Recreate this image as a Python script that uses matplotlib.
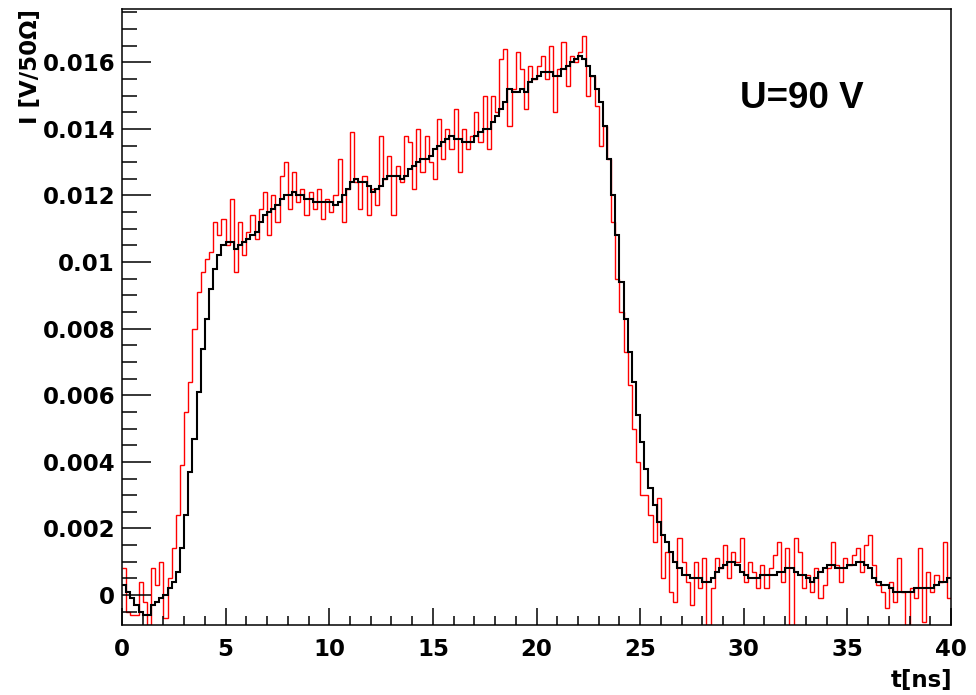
import matplotlib
matplotlib.use("Agg")
import matplotlib.pyplot as plt
from matplotlib.ticker import MultipleLocator, FuncFormatter
import numpy as np

# ── Data (signal amplitude per 0.2 ns bin, 0 … 40 ns) ───────────────────────
t_edges = np.linspace(0, 40, 201)

# black: averaged pulse
black_I = [
    0.0003, 0.0001, -0.0001, -0.0003, -0.0005, -0.0006, -0.0006, -0.0003, -0.0002, -0.0001,
    0.0000, 0.0002, 0.0004, 0.0007, 0.0014, 0.0024, 0.0037, 0.0047, 0.0061, 0.0074,
    0.0083, 0.0092, 0.0098, 0.0102, 0.0105, 0.0106, 0.0106, 0.0104, 0.0105, 0.0106,
    0.0107, 0.0108, 0.0109, 0.0112, 0.0114, 0.0115, 0.0116, 0.0117, 0.0119, 0.0120,
    0.0120, 0.0121, 0.0120, 0.0120, 0.0119, 0.0119, 0.0118, 0.0118, 0.0118, 0.0118,
    0.0118, 0.0117, 0.0118, 0.0120, 0.0122, 0.0124, 0.0125, 0.0124, 0.0124, 0.0123,
    0.0121, 0.0122, 0.0123, 0.0125, 0.0126, 0.0126, 0.0126, 0.0125, 0.0126, 0.0128,
    0.0129, 0.0130, 0.0131, 0.0131, 0.0132, 0.0134, 0.0135, 0.0136, 0.0137, 0.0138,
    0.0137, 0.0137, 0.0136, 0.0136, 0.0136, 0.0138, 0.0139, 0.0140, 0.0140, 0.0142,
    0.0144, 0.0146, 0.0148, 0.0152, 0.0151, 0.0151, 0.0152, 0.0151, 0.0154, 0.0155,
    0.0156, 0.0157, 0.0157, 0.0157, 0.0156, 0.0156, 0.0158, 0.0159, 0.0160, 0.0161,
    0.0162, 0.0161, 0.0159, 0.0156, 0.0152, 0.0148, 0.0141, 0.0131, 0.0120, 0.0108,
    0.0094, 0.0083, 0.0073, 0.0064, 0.0054, 0.0046, 0.0038, 0.0032, 0.0027, 0.0022,
    0.0018, 0.0016, 0.0013, 0.0010, 0.0008, 0.0006, 0.0006, 0.0005, 0.0005, 0.0005,
    0.0004, 0.0004, 0.0005, 0.0007, 0.0008, 0.0009, 0.0010, 0.0010, 0.0009, 0.0007,
    0.0006, 0.0005, 0.0005, 0.0005, 0.0006, 0.0006, 0.0006, 0.0006, 0.0007, 0.0007,
    0.0008, 0.0008, 0.0007, 0.0006, 0.0006, 0.0005, 0.0004, 0.0005, 0.0007, 0.0008,
    0.0009, 0.0009, 0.0008, 0.0008, 0.0008, 0.0009, 0.0009, 0.0010, 0.0010, 0.0009,
    0.0008, 0.0005, 0.0004, 0.0003, 0.0003, 0.0002, 0.0001, 0.0001, 0.0001, 0.0001,
    0.0001, 0.0002, 0.0002, 0.0002, 0.0002, 0.0002, 0.0003, 0.0004, 0.0004, 0.0005,
]

# red: single noisy pulse
red_I = [
    0.0008, -0.0005, -0.0006, -0.0006, 0.0004, -0.0002, -0.0009, 0.0008, 0.0003, 0.0010,
    -0.0007, 0.0005, 0.0014, 0.0024, 0.0039, 0.0055, 0.0064, 0.0080, 0.0091, 0.0097,
    0.0101, 0.0103, 0.0112, 0.0108, 0.0113, 0.0105, 0.0119, 0.0097, 0.0112, 0.0102,
    0.0109, 0.0114, 0.0107, 0.0116, 0.0121, 0.0108, 0.0120, 0.0112, 0.0126, 0.0130,
    0.0116, 0.0127, 0.0118, 0.0122, 0.0114, 0.0121, 0.0116, 0.0122, 0.0113, 0.0119,
    0.0115, 0.0120, 0.0131, 0.0112, 0.0122, 0.0139, 0.0124, 0.0116, 0.0126, 0.0114,
    0.0122, 0.0117, 0.0138, 0.0125, 0.0132, 0.0114, 0.0129, 0.0124, 0.0138, 0.0136,
    0.0122, 0.0140, 0.0127, 0.0138, 0.0130, 0.0125, 0.0143, 0.0131, 0.0140, 0.0134,
    0.0146, 0.0127, 0.0140, 0.0134, 0.0138, 0.0145, 0.0136, 0.0150, 0.0134, 0.0150,
    0.0145, 0.0161, 0.0164, 0.0141, 0.0152, 0.0163, 0.0158, 0.0146, 0.0159, 0.0155,
    0.0159, 0.0162, 0.0155, 0.0165, 0.0145, 0.0158, 0.0166, 0.0153, 0.0162, 0.0160,
    0.0163, 0.0168, 0.0150, 0.0156, 0.0147, 0.0135, 0.0141, 0.0131, 0.0112, 0.0095,
    0.0085, 0.0073, 0.0063, 0.0050, 0.0040, 0.0030, 0.0030, 0.0024, 0.0016, 0.0029,
    0.0005, 0.0013, 0.0001, -0.0002, 0.0017, 0.0010, 0.0004, -0.0003, 0.0010, 0.0002,
    0.0011, -0.0009, 0.0002, 0.0011, 0.0008, 0.0015, 0.0005, 0.0013, 0.0010, 0.0017,
    0.0004, 0.0010, 0.0007, 0.0002, 0.0009, 0.0002, 0.0008, 0.0012, 0.0016, 0.0004,
    0.0014, -0.0009, 0.0017, 0.0013, 0.0002, 0.0006, 0.0001, 0.0008, -0.0001, 0.0003,
    0.0008, 0.0016, 0.0009, 0.0004, 0.0011, 0.0009, 0.0012, 0.0014, 0.0007, 0.0015,
    0.0018, 0.0009, 0.0003, 0.0001, -0.0004, 0.0004, -0.0002, 0.0011, 0.0001, -0.0009,
    0.0002, -0.0001, 0.0014, -0.0008, 0.0007, 0.0001, 0.0006, 0.0004, 0.0016, -0.0001,
]

y_ticks = [0, 0.002, 0.004, 0.006, 0.008, 0.01, 0.012, 0.014, 0.016]

# ── Figure ───────────────────────────────────────────────────────────────────
fig = plt.figure(figsize=(9.76, 6.95), dpi=100)
fig.patch.set_facecolor("white")
ax = fig.add_axes([0.125, 0.1007, 0.8494, 0.8863])

ax.stairs(red_I, t_edges, color="#ff0000", linewidth=1.0, baseline=None)
ax.stairs(black_I, t_edges, color="black", linewidth=1.5, baseline=None)

ax.set_xlim(0, 40)
ax.set_ylim(-0.0009, 0.0176)

ax.xaxis.set_major_locator(MultipleLocator(5))
ax.xaxis.set_minor_locator(MultipleLocator(1))
ax.set_yticks(y_ticks)
ax.yaxis.set_minor_locator(MultipleLocator(0.0005))
ax.yaxis.set_major_formatter(FuncFormatter(lambda v, p: f"{v:g}"))

tick_font = dict(family="DejaVu Sans", weight="bold", size=16.5)
for lbl in ax.get_xticklabels() + ax.get_yticklabels():
    lbl.set_fontproperties(matplotlib.font_manager.FontProperties(**tick_font))

ax.tick_params(axis="both", which="both", direction="in", width=1.1,
               top=False, right=False, colors="black")
ax.tick_params(axis="y", which="major", length=21, pad=5)
ax.tick_params(axis="y", which="minor", length=11)
ax.tick_params(axis="x", which="major", length=12, pad=9)
ax.tick_params(axis="x", which="minor", length=6.5)
for sp in ax.spines.values():
    sp.set_linewidth(1.1)

# axis titles (ROOT style, at the far ends)
fig.text(952 / 976, 1 - 681 / 695, "t[ns]", ha="right", va="center",
         fontsize=16.5, fontweight="bold", family="DejaVu Sans")
fig.text(30 / 976, 1 - 9 / 695, "I [V/50\u03a9]", ha="center", va="top",
         rotation=90, fontsize=16.5, fontweight="bold", family="DejaVu Sans")

ax.text(0.7455, 0.8555, "U=90 V", transform=ax.transAxes, ha="left",
        va="center", fontsize=26.5, fontweight="bold", family="Liberation Sans")

fig.savefig("out.png", dpi=100, facecolor="white")
plt.close(fig)
